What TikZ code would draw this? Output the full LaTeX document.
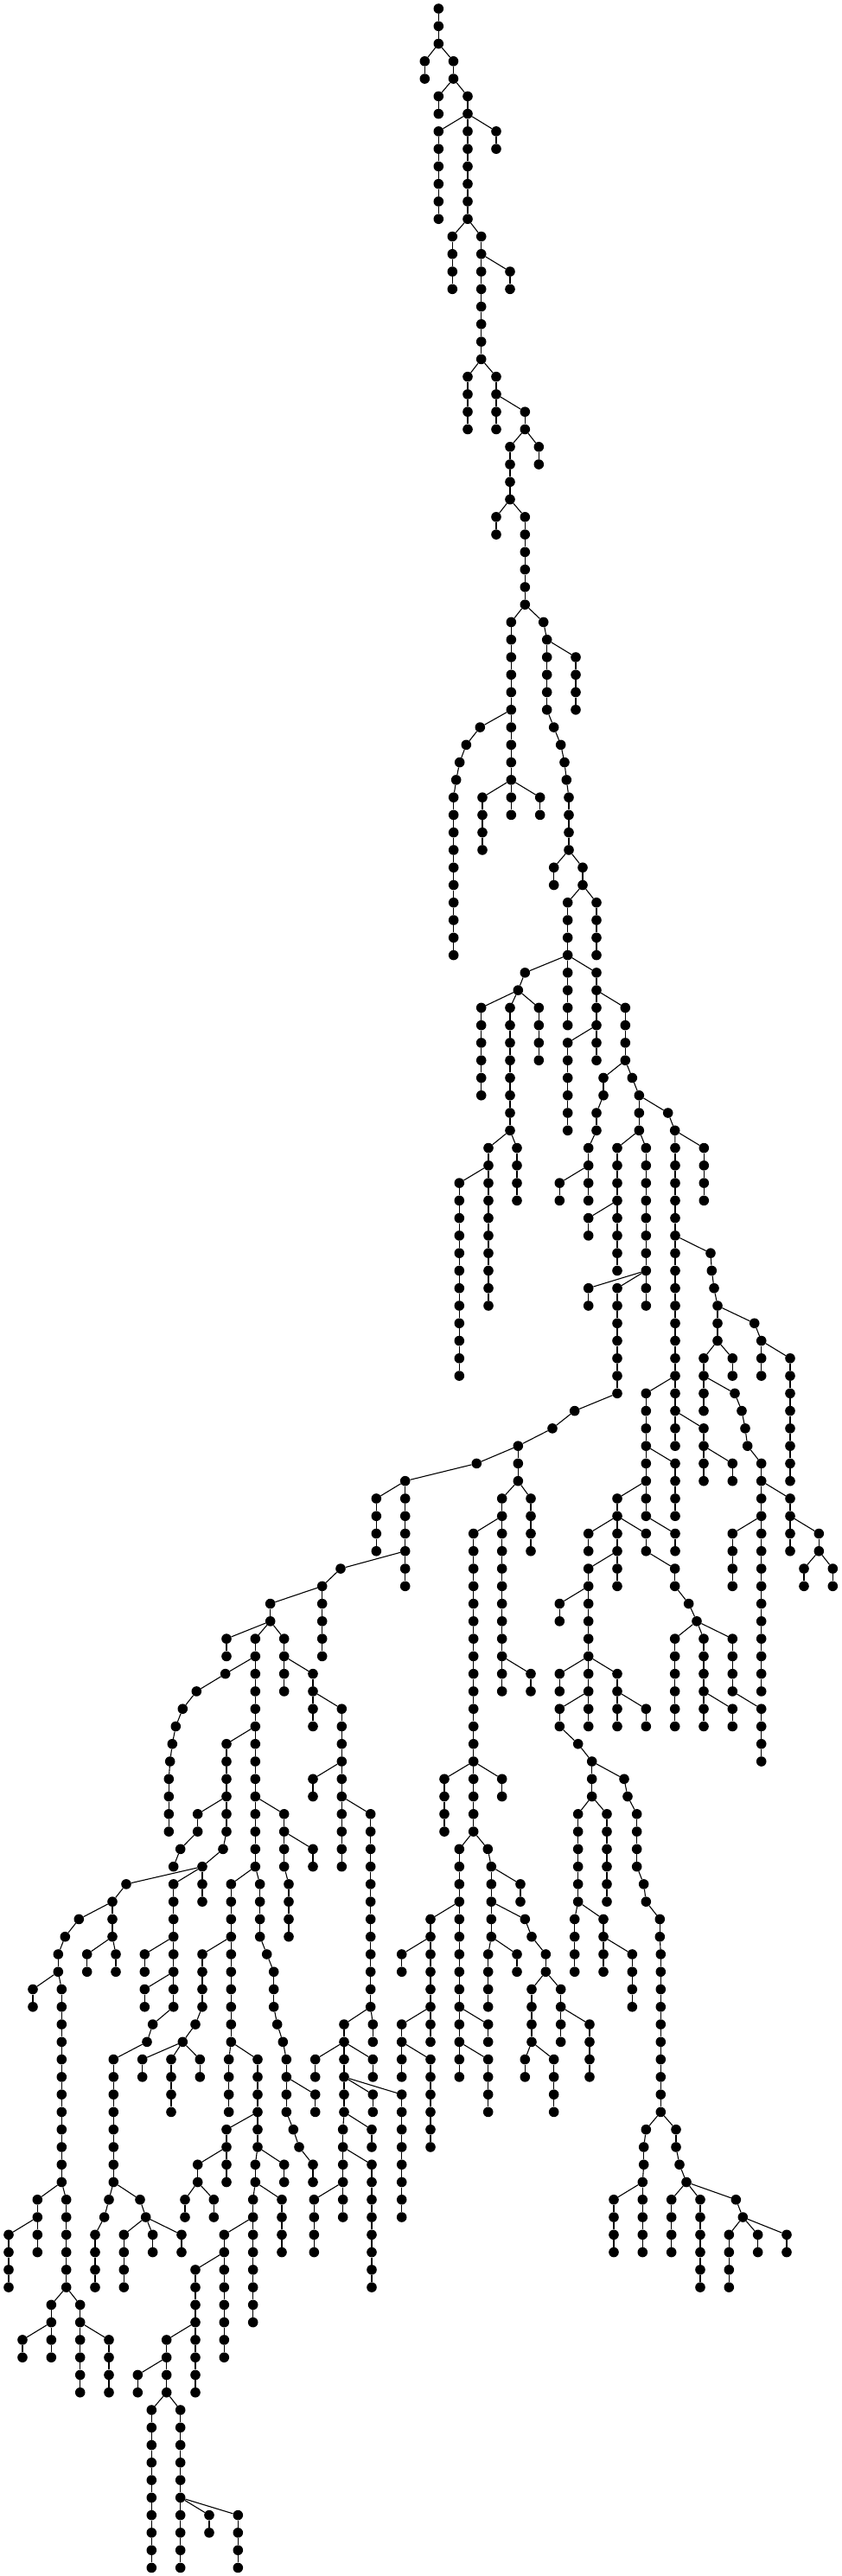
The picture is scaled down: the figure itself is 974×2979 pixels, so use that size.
\documentclass[tikz,border=0pt]{standalone}
\tikzset{dot/.style={circle,fill=black,draw=none,inner sep=0pt,minimum size=11.6pt},edge/.style={draw=black,line width=1.1pt}}
\newcommand\ch[4]{\foreach \rw in {#3,...,#4}{%
  \pgfmathsetmacro\xx{#1/10}\pgfmathsetmacro\yy{10+20.27*\rw}%
  \node[dot] (n#1-\rw) at (\xx,\yy) {};%
  \pgfmathtruncatemacro\pv{\rw-1}%
  \ifnum\rw=#3\relax \draw[edge] (n#2) -- (n#1-\rw);\else \draw[edge] (n#1-\pv) -- (n#1-\rw);\fi}}
\begin{document}
\begin{tikzpicture}[x=1pt,y=-1pt]
\path[fill=white,use as bounding box] (0,0) rectangle (974,2979);
\node[dot] (n5073-0) at (507.3,10) {};
\ch{5073}{5073-0}{1}{2}
\ch{4913}{5073-2}{3}{4}
\ch{5245}{5073-2}{3}{4}
\ch{5073}{5245-4}{5}{6}
\ch{5410}{5245-4}{5}{12}
\ch{5073}{5410-6}{7}{12}
\ch{5740}{5410-6}{7}{8}
\ch{5233}{5410-12}{13}{16}
\ch{5567}{5410-12}{13}{20}
\ch{5900}{5567-14}{15}{16}
\ch{5410}{5567-20}{21}{24}
\ch{5740}{5567-20}{21}{24}
\ch{6073}{5740-22}{23}{24}
\ch{5900}{6073-24}{25}{28}
\ch{6233}{6073-24}{25}{26}
\ch{5740}{5900-28}{29}{30}
\ch{6073}{5900-28}{29}{34}
\ch{5913}{6073-34}{35}{46}
\ch{6287}{6073-34}{35}{35}
\ch{6327}{6287-35}{36}{40}
\ch{6660}{6327-36}{37}{40}
\ch{5553}{5913-40}{41}{41}
\ch{5393}{5553-41}{42}{42}
\ch{5317}{5393-42}{43}{43}
\ch{5277}{5317-43}{44}{44}
\ch{5247}{5277-44}{45}{54}
\ch{5580}{5913-44}{45}{48}
\ch{6247}{5913-44}{45}{46}
\ch{6407}{6327-40}{41}{41}
\ch{6487}{6407-41}{42}{42}
\ch{6530}{6487-42}{43}{43}
\ch{6553}{6530-43}{44}{44}
\ch{6580}{6553-44}{45}{48}
\ch{6407}{6580-48}{49}{50}
\ch{6740}{6580-48}{49}{50}
\ch{6567}{6740-50}{51}{54}
\ch{6900}{6740-50}{51}{54}
\ch{6073}{6567-54}{55}{55}
\ch{5993}{6073-55}{56}{56}
\ch{6567}{6567-54}{55}{58}
\ch{6900}{6567-54}{55}{60}
\ch{5567}{5993-56}{57}{62}
\ch{5900}{5993-56}{57}{64}
\ch{6233}{5993-56}{57}{60}
\ch{7233}{6900-56}{57}{60}
\ch{6567}{6900-58}{59}{64}
\ch{6980}{7233-60}{61}{62}
\ch{6900}{6980-62}{63}{64}
\ch{6807}{6900-64}{65}{68}
\ch{6473}{6807-66}{67}{68}
\ch{7313}{7233-60}{61}{61}
\ch{7393}{7313-61}{62}{64}
\ch{7727}{7393-62}{63}{63}
\ch{7807}{7727-63}{64}{64}
\ch{7140}{7393-64}{65}{72}
\ch{6807}{7140-68}{69}{70}
\ch{7473}{7393-64}{65}{74}
\ch{7140}{7473-72}{73}{79}
\ch{6807}{7473-72}{73}{74}
\ch{6647}{7140-79}{80}{80}
\ch{6390}{6647-80}{81}{81}
\ch{5993}{6390-81}{82}{82}
\ch{5513}{5993-82}{83}{83}
\ch{5993}{5993-82}{83}{84}
\ch{5650}{5900-64}{65}{74}
\ch{5980}{5900-64}{65}{68}
\ch{5313}{5650-66}{67}{78}
\ch{7810}{7807-64}{65}{82}
\ch{8143}{7807-64}{65}{68}
\ch{7473}{7810-78}{79}{86}
\ch{8220}{7810-70}{71}{71}
\ch{8233}{8220-71}{72}{72}
\ch{8260}{8233-72}{73}{73}
\ch{8300}{8260-73}{74}{76}
\ch{8727}{8300-74}{75}{75}
\ch{8807}{8727-75}{76}{78}
\ch{9140}{8807-76}{77}{84}
\ch{8140}{8300-76}{77}{80}
\ch{8473}{8300-76}{77}{78}
\ch{8500}{8140-78}{79}{79}
\ch{8580}{8500-79}{80}{80}
\ch{8620}{8580-80}{81}{81}
\ch{8647}{8620-81}{82}{82}
\ch{8807}{8647-82}{83}{96}
\ch{9140}{8807-84}{85}{88}
\ch{9473}{9140-86}{87}{88}
\ch{9300}{9473-88}{89}{90}
\ch{9633}{9473-88}{89}{90}
\ch{8473}{8807-86}{87}{90}
\ch{8140}{7810-80}{81}{84}
\ch{8473}{8140-82}{83}{84}
\ch{7810}{7473-82}{83}{86}
\ch{7140}{7473-84}{85}{90}
\ch{6807}{7140-86}{87}{88}
\ch{7473}{7140-86}{87}{88}
\ch{7810}{7473-86}{87}{88}
\ch{7807}{7473-88}{89}{90}
\ch{7967}{7807-90}{91}{91}
\ch{8060}{7967-91}{92}{92}
\ch{7807}{8060-92}{93}{98}
\ch{8140}{8060-92}{93}{98}
\ch{8473}{8060-92}{93}{96}
\ch{8473}{8140-96}{97}{98}
\ch{8807}{8473-96}{97}{100}
\ch{6807}{7140-88}{89}{98}
\ch{6473}{6807-90}{91}{92}
\ch{6473}{6807-94}{95}{96}
\ch{7140}{6807-94}{95}{98}
\ch{7473}{7140-96}{97}{98}
\ch{6473}{6807-96}{97}{98}
\ch{6687}{6473-98}{99}{99}
\ch{6847}{6687-99}{100}{102}
\ch{6687}{6847-102}{103}{108}
\ch{7020}{6847-102}{103}{108}
\ch{7220}{6847-100}{101}{101}
\ch{7260}{7220-101}{102}{102}
\ch{7367}{7260-102}{103}{106}
\ch{7447}{7367-106}{107}{107}
\ch{7473}{7447-107}{108}{108}
\ch{7633}{7473-108}{109}{110}
\ch{7643}{7633-110}{111}{120}
\ch{7473}{7643-120}{121}{121}
\ch{7447}{7473-121}{122}{123}
\ch{7433}{7447-123}{124}{128}
\ch{7100}{7433-124}{125}{128}
\ch{7820}{7643-120}{121}{122}
\ch{7860}{7820-122}{123}{123}
\ch{7940}{7860-123}{124}{124}
\ch{7767}{7940-124}{125}{128}
\ch{8100}{7940-124}{125}{130}
\ch{8513}{7940-124}{125}{125}
\ch{8593}{8513-125}{126}{126}
\ch{8433}{8593-126}{127}{130}
\ch{8767}{8593-126}{127}{128}
\ch{9100}{8593-126}{127}{128}
\ch{6647}{6687-108}{109}{112}
\ch{6980}{6687-108}{109}{112}
\ch{7313}{6980-110}{111}{114}
\ch{5807}{5993-84}{85}{96}
\ch{6140}{5993-84}{85}{88}
\ch{5477}{5807-86}{87}{104}
\ch{5140}{5477-100}{101}{104}
\ch{5807}{5477-100}{101}{102}
\ch{6140}{5807-94}{95}{96}
\ch{5313}{5477-104}{105}{118}
\ch{5643}{5477-104}{105}{105}
\ch{5683}{5643-105}{106}{110}
\ch{6020}{5683-106}{107}{108}
\ch{6073}{5683-108}{109}{109}
\ch{6150}{6073-109}{110}{110}
\ch{6313}{6150-110}{111}{112}
\ch{6150}{6313-112}{113}{116}
\ch{6487}{6313-112}{113}{116}
\ch{6073}{6150-116}{117}{118}
\ch{6407}{6150-116}{117}{120}
\ch{6820}{6487-114}{115}{118}
\ch{5647}{5683-110}{111}{114}
\ch{5980}{5683-110}{111}{112}
\ch{5647}{5313-114}{115}{116}
\ch{5647}{5313-116}{117}{120}
\ch{4980}{5313-108}{109}{116}
\ch{4647}{4980-110}{111}{112}
\ch{4647}{4980-114}{115}{118}
\ch{4980}{4647-116}{117}{122}
\ch{4687}{5513-83}{84}{90}
\ch{4353}{4687-84}{85}{88}
\ch{3940}{4687-88}{89}{89}
\ch{3727}{3940-89}{90}{94}
\ch{3127}{3727-90}{91}{92}
\ch{2620}{3127-92}{93}{94}
\ch{2953}{3127-92}{93}{106}
\ch{3287}{3127-92}{93}{96}
\ch{2607}{2953-94}{95}{95}
\ch{2273}{2607-95}{96}{96}
\ch{2113}{2273-96}{97}{97}
\ch{2033}{2113-97}{98}{98}
\ch{1993}{2033-98}{99}{99}
\ch{1967}{1993-99}{100}{100}
\ch{1953}{1967-100}{101}{104}
\ch{2620}{2953-98}{99}{104}
\ch{2580}{2620-104}{105}{105}
\ch{2340}{2580-105}{106}{108}
\ch{2287}{2620-102}{103}{104}
\ch{2087}{2287-104}{105}{105}
\ch{2007}{2087-105}{106}{106}
\ch{3287}{2953-102}{103}{106}
\ch{3340}{3287-106}{107}{110}
\ch{3620}{3287-104}{105}{106}
\ch{3620}{3287-94}{95}{98}
\ch{3953}{3620-96}{97}{106}
\ch{3620}{3953-100}{101}{102}
\ch{4287}{3953-102}{103}{114}
\ch{1460}{2340-106}{107}{107}
\ch{2007}{2340-106}{107}{114}
\ch{1300}{1460-107}{108}{110}
\ch{913}{1300-108}{109}{109}
\ch{753}{913-109}{110}{110}
\ch{673}{753-110}{111}{112}
\ch{380}{673-112}{113}{114}
\ch{713}{673-112}{113}{124}
\ch{433}{713-124}{125}{128}
\ch{767}{713-124}{125}{130}
\ch{100}{433-126}{127}{130}
\ch{593}{767-130}{131}{134}
\ch{927}{767-130}{131}{136}
\ch{260}{593-132}{133}{134}
\ch{1260}{927-132}{133}{136}
\ch{1007}{1300-110}{111}{112}
\ch{1340}{1300-110}{111}{112}
\ch{1673}{2007-110}{111}{112}
\ch{1673}{2007-112}{113}{114}
\ch{1767}{2007-114}{115}{115}
\ch{1700}{1767-115}{116}{116}
\ch{1313}{1700-116}{117}{124}
\ch{1260}{1313-124}{125}{125}
\ch{1207}{1260-125}{126}{126}
\ch{1100}{1207-126}{127}{130}
\ch{1620}{1313-124}{125}{125}
\ch{1687}{1620-125}{126}{126}
\ch{1433}{1687-126}{127}{130}
\ch{1767}{1687-126}{127}{128}
\ch{2100}{1687-126}{127}{128}
\ch{2673}{2953-106}{107}{116}
\ch{3007}{2953-106}{107}{110}
\ch{2340}{2673-110}{111}{114}
\ch{2260}{2340-114}{115}{115}
\ch{2113}{2260-115}{116}{116}
\ch{1647}{2113-116}{117}{118}
\ch{1980}{2113-116}{117}{120}
\ch{2313}{2113-116}{117}{118}
\ch{2647}{2673-116}{117}{120}
\ch{2980}{2673-116}{117}{122}
\ch{2620}{2980-120}{121}{124}
\ch{2287}{2620-122}{123}{124}
\ch{2140}{2287-124}{125}{126}
\ch{2473}{2287-124}{125}{126}
\ch{2953}{2980-122}{123}{124}
\ch{3287}{2980-122}{123}{124}
\ch{2927}{2953-124}{125}{132}
\ch{3260}{2953-124}{125}{128}
\ch{2593}{2927-126}{127}{134}
\ch{2260}{2593-128}{129}{136}
\ch{1927}{2260-132}{133}{136}
\ch{1593}{1927-134}{135}{136}
\ch{1753}{1927-136}{137}{146}
\ch{2087}{1927-136}{137}{146}
\ch{2420}{2087-142}{143}{144}
\ch{2753}{2087-142}{143}{146}
\ch{3087}{3007-110}{111}{111}
\ch{3167}{3087-111}{112}{114}
\ch{3207}{3167-114}{115}{115}
\ch{3273}{3207-115}{116}{116}
\ch{3313}{3273-116}{117}{120}
\ch{3647}{3313-118}{119}{120}
\ch{3393}{3313-120}{121}{121}
\ch{3460}{3393-121}{122}{122}
\ch{3620}{3460-122}{123}{124}
\ch{3980}{4287-114}{115}{120}
\ch{4313}{4287-114}{115}{116}
\ch{3647}{3980-116}{117}{118}
\ch{4313}{3980-116}{117}{118}
\ch{4313}{3980-118}{119}{120}
\ch{4647}{3980-118}{119}{126}
\ch{3967}{3980-120}{121}{126}
\ch{4300}{3980-120}{121}{122}
\ch{4300}{3967-122}{123}{130}
\ch{3633}{3967-124}{125}{128}
\end{tikzpicture}
\end{document}
